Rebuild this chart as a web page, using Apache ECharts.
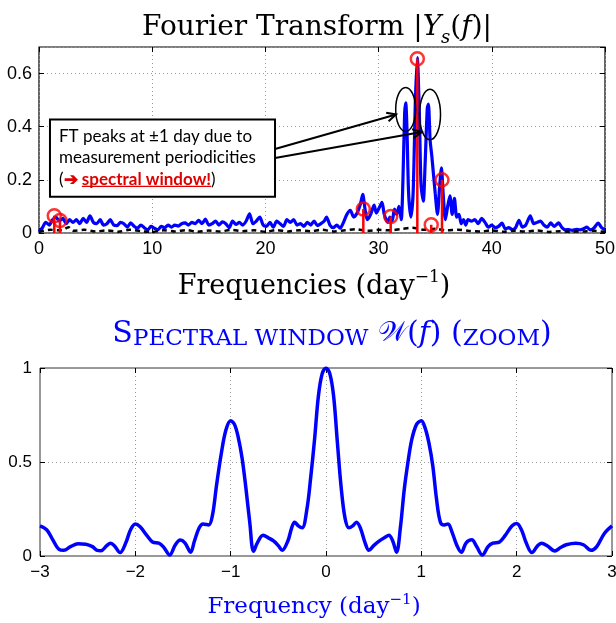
<!DOCTYPE html>
<html>
<head>
<meta charset="utf-8">
<script src="https://cdn.jsdelivr.net/npm/echarts@6.0.0/dist/echarts.min.js"></script>
<style>
  html, body { margin: 0; padding: 0; background: #fff; }
  #chart { width: 616px; height: 623px; }
</style>
</head>
<body>
<div id="chart"></div>
<script>
// ---- Fourier amplitude spectrum |Ys(f)| (frequency in 1/day) ----
const spectrumFreq = [
  0.0, 0.3, 0.6, 0.9, 1.2, 1.5, 1.8, 2.1, 2.4, 2.7, 3.0, 3.3, 3.6, 3.9, 4.2, 4.5, 4.8, 5.1, 5.4, 5.7,
  6.0, 6.3, 6.6, 6.9, 7.2, 7.5, 7.8, 8.1, 8.4, 8.7, 9.0, 9.3, 9.6, 9.9, 10.2, 10.5, 10.8, 11.1, 11.4, 11.7,
  12.0, 12.3, 12.6, 12.9, 13.2, 13.5, 13.8, 14.1, 14.4, 14.7, 15.0, 15.3, 15.6, 15.9, 16.2, 16.5, 16.8, 17.1, 17.4, 17.7,
  18.0, 18.3, 18.6, 18.9, 19.2, 19.5, 19.8, 20.1, 20.4, 20.7, 21.0, 21.3, 21.6, 21.9, 22.2, 22.5, 22.8, 23.1, 23.4, 23.7,
  24.0, 24.3, 24.6, 24.9, 25.2, 25.4, 25.7, 26.0, 26.3, 26.6, 26.9, 27.2, 27.5, 27.8, 28.1, 28.4, 28.6, 28.8, 29.0, 29.3,
  29.6, 29.8, 30.0, 30.3, 30.5, 30.8, 31.0, 31.2, 31.4, 31.6, 31.8, 32.0, 32.15, 32.3, 32.4, 32.5, 32.65, 32.85, 33.05, 33.25,
  33.42, 33.6, 33.75, 33.95, 34.1, 34.3, 34.4, 34.55, 34.7, 34.85, 35.0, 35.2, 35.4, 35.55, 35.7, 35.9, 36.1, 36.3, 36.5, 36.7,
  36.9, 37.1, 37.3, 37.5, 37.7, 37.9, 38.2, 38.5, 38.8, 39.1, 39.4, 39.7, 40.0, 40.3, 40.6, 40.9, 41.2, 41.5, 41.8, 42.1,
  42.4, 42.7, 43.0, 43.4, 43.7, 44.0, 44.3, 44.6, 44.9, 45.2, 45.5, 45.9, 46.2, 46.5, 46.8, 47.1, 47.5, 47.8, 48.1, 48.4,
  48.7, 49.0, 49.4, 49.7, 50.0
];
const spectrumAmp = [
  0.005, 0.02, 0.04, 0.03, 0.05, 0.06, 0.045, 0.055, 0.035, 0.05, 0.04, 0.05, 0.035, 0.055, 0.04, 0.065, 0.04, 0.035, 0.05, 0.03,
  0.035, 0.05, 0.03, 0.028, 0.04, 0.035, 0.022, 0.038, 0.025, 0.018, 0.03, 0.02, 0.012, 0.025, 0.018, 0.012, 0.025, 0.02, 0.03, 0.022,
  0.03, 0.026, 0.035, 0.038, 0.03, 0.04, 0.035, 0.048, 0.035, 0.052, 0.03, 0.035, 0.045, 0.03, 0.042, 0.035, 0.02, 0.045, 0.032, 0.04,
  0.03, 0.045, 0.072, 0.035, 0.045, 0.06, 0.03, 0.025, 0.04, 0.022, 0.045, 0.035, 0.025, 0.05, 0.04, 0.05, 0.03, 0.035, 0.025, 0.04,
  0.03, 0.045, 0.028, 0.035, 0.045, 0.06, 0.03, 0.02, 0.03, 0.018, 0.04, 0.07, 0.085, 0.06, 0.075, 0.11, 0.145, 0.09, 0.05, 0.07,
  0.105, 0.075, 0.09, 0.115, 0.07, 0.04, 0.06, 0.045, 0.09, 0.07, 0.1, 0.05, 0.2, 0.45, 0.49, 0.4, 0.15, 0.06, 0.15, 0.5,
  0.66, 0.45, 0.18, 0.12, 0.25, 0.47, 0.485, 0.35, 0.29, 0.22, 0.15, 0.07, 0.18, 0.245, 0.15, 0.05, 0.1, 0.14, 0.07, 0.13,
  0.06, 0.07, 0.035, 0.05, 0.03, 0.05, 0.045, 0.05, 0.035, 0.055, 0.04, 0.022, 0.03, 0.02, 0.025, 0.037, 0.015, 0.02, 0.013, 0.02,
  0.048, 0.022, 0.03, 0.065, 0.035, 0.04, 0.045, 0.03, 0.022, 0.038, 0.025, 0.038, 0.02, 0.012, 0.013, 0.01, 0.014, 0.012, 0.016, 0.022,
  0.012, 0.018, 0.037, 0.02, 0.012
];

// residual spectrum after prewhitening (dashed black)
const residualFreq = [
  0, 1, 2, 2.6, 3, 4, 5, 6, 7, 8, 9, 10, 11, 12, 13, 14, 15, 16, 17, 18, 19, 20, 21, 22, 23, 24, 25,
  26, 27, 28, 29, 30, 31, 32, 33, 34, 35, 36, 37, 38, 39, 40, 41, 42, 43, 44, 45, 46, 47, 48, 49, 50
];
const residualAmp = [
  0.004, 0.012, 0.01, 0.022, 0.008, 0.012, 0.006, 0.01, 0.005, 0.012, 0.007, 0.004, 0.01, 0.006, 0.011, 0.005, 0.009, 0.006, 0.012, 0.007, 0.01, 0.005, 0.011, 0.006, 0.01, 0.007, 0.012,
  0.006, 0.01, 0.014, 0.008, 0.012, 0.01, 0.015, 0.02, 0.012, 0.016, 0.01, 0.012, 0.008, 0.006, 0.01, 0.005, 0.008, 0.006, 0.009, 0.004, 0.007, 0.005, 0.006, 0.008, 0.004
];

// extracted frequencies (red stems)
const peakFreq = [1.35, 1.85, 28.65, 31.07, 33.42, 34.65, 35.6];
const peakAmp  = [0.065, 0.047, 0.09, 0.062, 0.656, 0.031, 0.2];

// ---- spectral window W(f) ----
const windowFreq = [
  -3.00, -2.93, -2.87, -2.80, -2.75, -2.68, -2.60, -2.52, -2.45, -2.40, -2.36, -2.30, -2.26, -2.22, -2.16, -2.10, -2.05, -2.00, -1.95, -1.88,
  -1.82, -1.75, -1.70, -1.64, -1.58, -1.53, -1.48, -1.42, -1.38, -1.33, -1.29, -1.23, -1.19, -1.15, -1.10, -1.05, -1.00, -0.96, -0.92, -0.88,
  -0.84, -0.80, -0.76, -0.72, -0.66, -0.60, -0.55, -0.50, -0.46, -0.40, -0.36, -0.33, -0.29, -0.25, -0.20, -0.16, -0.12, -0.08, -0.04, 0.00,
  0.04, 0.08, 0.12, 0.16, 0.20, 0.24, 0.28, 0.32, 0.36, 0.41, 0.45, 0.50, 0.56, 0.62, 0.66, 0.70, 0.74, 0.78, 0.82, 0.86,
  0.90, 0.95, 1.00, 1.04, 1.08, 1.12, 1.16, 1.20, 1.24, 1.28, 1.32, 1.37, 1.42, 1.47, 1.53, 1.58, 1.64, 1.70, 1.75, 1.82,
  1.88, 1.95, 2.00, 2.05, 2.10, 2.16, 2.22, 2.26, 2.32, 2.40, 2.46, 2.52, 2.62, 2.70, 2.78, 2.84, 2.92, 3.00
];
const windowAmp = [
  0.16, 0.14, 0.09, 0.035, 0.03, 0.05, 0.065, 0.063, 0.05, 0.03, 0.028, 0.055, 0.068, 0.055, 0.018, 0.07, 0.14, 0.17, 0.155, 0.11,
  0.075, 0.068, 0.045, 0.005, 0.06, 0.085, 0.07, 0.02, 0.08, 0.15, 0.17, 0.165, 0.22, 0.37, 0.54, 0.67, 0.72, 0.70, 0.63, 0.52,
  0.36, 0.18, 0.025, 0.07, 0.11, 0.095, 0.08, 0.055, 0.03, 0.08, 0.15, 0.18, 0.16, 0.15, 0.25, 0.42, 0.62, 0.85, 0.97, 1.00,
  0.97, 0.85, 0.60, 0.36, 0.20, 0.15, 0.16, 0.18, 0.15, 0.07, 0.03, 0.055, 0.08, 0.10, 0.11, 0.08, 0.02, 0.15, 0.35, 0.50,
  0.62, 0.70, 0.72, 0.68, 0.60, 0.48, 0.30, 0.18, 0.165, 0.17, 0.13, 0.06, 0.02, 0.07, 0.086, 0.05, 0.005, 0.05, 0.068, 0.075,
  0.11, 0.16, 0.173, 0.14, 0.07, 0.018, 0.055, 0.068, 0.055, 0.027, 0.045, 0.06, 0.068, 0.06, 0.03, 0.05, 0.12, 0.16
];

// tick labels
const ftFreqTicks = [0, 10, 20, 30, 40, 50];
const ftAmpTicks = [0, 0.2, 0.4, 0.6];
const winFreqTicks = [-3, -2, -1, 0, 1, 2, 3];
const winAmpTicks = [0, 0.5, 1];

const zip = (a, b) => a.map((v, i) => [v, b[i]]);
const inTicks = (ticks, v) => ticks.some(t => Math.abs(t - v) < 1e-9);

const SERIF = '"DejaVu Serif", "Liberation Serif", serif';
const SANS = '"Liberation Sans", Arial, sans-serif';
const NOTE = 'Lato, "Open Sans", sans-serif';
const BLUE = '#0000ff';
const RED = '#ff0000';
const GRID_DOT = { color: '#9a9a9a', width: 1, type: [1, 3] };

function valueAxis(opt) {
  return Object.assign({
    type: 'value',
    axisLine: { show: false, onZero: false },
    axisTick: { show: true, inside: true, length: 5, lineStyle: { color: '#000' } },
    axisLabel: { show: false },
    splitLine: { show: false }
  }, opt);
}

const chart = echarts.init(document.getElementById('chart'), null, { renderer: 'canvas' });

const option = {
  animation: false,
  backgroundColor: '#fff',
  title: [
    {
      text: 'Fourier Transform |{it|Y}{sub|s}({it|f})|',
      left: 312, top: 4, textAlign: 'center',
      textStyle: {
        fontFamily: SERIF, fontSize: 28, fontWeight: 'normal', color: '#000',
        rich: {
          it: { fontFamily: SERIF, fontSize: 28, fontStyle: 'italic', color: '#000' },
          sub: { fontFamily: SERIF, fontSize: 18, fontStyle: 'italic', color: '#000', verticalAlign: 'bottom', lineHeight: 38 }
        }
      }
    },
    {
      text: '{cap|S}{sc|PECTRAL WINDOW} {cal|𝒲}({it|f}) ({sc|ZOOM})',
      left: 327, top: 312, textAlign: 'center',
      textStyle: {
        fontFamily: SERIF, fontSize: 30, fontWeight: 'normal', color: BLUE,
        rich: {
          cap: { fontFamily: SERIF, fontSize: 30, color: BLUE },
          sc: { fontFamily: SERIF, fontSize: 23, color: BLUE, verticalAlign: 'bottom', lineHeight: 34 },
          cal: { fontFamily: '"DejaVu Sans", "Noto Sans", serif', fontSize: 28, color: BLUE },
          it: { fontFamily: SERIF, fontSize: 30, fontStyle: 'italic', color: BLUE }
        }
      }
    }
  ],
  grid: [
    { left: 39, right: 11, top: 47, height: 186, show: true, borderColor: '#000', borderWidth: 1.2, backgroundColor: '#fff', outerBoundsMode: 'none' },
    { left: 40, right: 4, top: 368, height: 188, show: true, borderColor: '#333', borderWidth: 1, backgroundColor: '#fff', outerBoundsMode: 'none' }
  ],
  xAxis: [
    valueAxis({
      gridIndex: 0, min: 0, max: 50, interval: 10, position: 'bottom',
      axisLabel: { show: true, fontFamily: SANS, fontSize: 18, color: '#000', margin: 7,
        formatter: v => inTicks(ftFreqTicks, v) ? String(v) : '' },
      splitLine: { show: true, lineStyle: GRID_DOT },
      name: 'Frequencies (day{sup|−1})', nameLocation: 'middle', nameGap: 36,
      nameTextStyle: { fontFamily: SERIF, fontSize: 27, color: '#000', padding: [0, 16, 0, 0],
        rich: { sup: { fontFamily: SERIF, fontSize: 17, color: '#000', verticalAlign: 'top', lineHeight: 35 } } }
    }),
    valueAxis({ gridIndex: 0, min: 0, max: 50, interval: 10, position: 'top' }),
    valueAxis({
      gridIndex: 1, min: -3, max: 3, interval: 1, position: 'bottom',
      axisLabel: { show: true, fontFamily: SANS, fontSize: 17, color: '#000', margin: 8,
        formatter: v => inTicks(winFreqTicks, v) ? String(v).replace('-', '−') : '' },
      splitLine: { show: true, lineStyle: GRID_DOT },
      name: 'Frequency (day{sup|−1})', nameLocation: 'middle', nameGap: 37,
      nameTextStyle: { fontFamily: SERIF, fontSize: 23, color: BLUE, padding: [0, 24, 0, 0],
        rich: { sup: { fontFamily: SERIF, fontSize: 15, color: BLUE, verticalAlign: 'top', lineHeight: 29 } } }
    }),
    valueAxis({ gridIndex: 1, min: -3, max: 3, interval: 1, position: 'top' })
  ],
  yAxis: [
    valueAxis({
      gridIndex: 0, min: 0, max: 0.7, interval: 0.2, position: 'left',
      axisLabel: { show: true, fontFamily: SANS, fontSize: 18, color: '#000', margin: 7, showMaxLabel: false,
        formatter: v => inTicks(ftAmpTicks, v) ? String(Math.round(v * 10) / 10) : '' },
      splitLine: { show: true, lineStyle: GRID_DOT }
    }),
    valueAxis({ gridIndex: 0, min: 0, max: 0.7, interval: 0.2, position: 'right' }),
    valueAxis({
      gridIndex: 1, min: 0, max: 1, interval: 0.5, position: 'left',
      axisLabel: { show: true, fontFamily: SANS, fontSize: 17, color: '#000', margin: 8,
        formatter: v => inTicks(winAmpTicks, v) ? String(v) : '' },
      splitLine: { show: true, lineStyle: GRID_DOT }
    }),
    valueAxis({ gridIndex: 1, min: 0, max: 1, interval: 0.5, position: 'right' })
  ],
  series: [
    {
      name: 'spectrum', type: 'line', xAxisIndex: 0, yAxisIndex: 0,
      data: zip(spectrumFreq, spectrumAmp), showSymbol: false, smooth: 0.25,
      lineStyle: { color: BLUE, width: 3.2 }, z: 2
    },
    {
      name: 'residual', type: 'line', xAxisIndex: 0, yAxisIndex: 0,
      data: zip(residualFreq, residualAmp), showSymbol: false, smooth: 0.3,
      lineStyle: { color: '#000', width: 2.5, type: [5, 4] }, z: 3
    },
    {
      name: 'stems', type: 'custom', xAxisIndex: 0, yAxisIndex: 0,
      data: zip(peakFreq, peakAmp), z: 4,
      renderItem: (params, api) => {
        const p0 = api.coord([api.value(0), 0]);
        const p1 = api.coord([api.value(0), api.value(1)]);
        return { type: 'line', shape: { x1: p0[0], y1: p0[1], x2: p1[0], y2: p1[1] },
                 style: { stroke: RED, lineWidth: 2.5 } };
      }
    },
    {
      name: 'peaks', type: 'scatter', xAxisIndex: 0, yAxisIndex: 0,
      data: zip(peakFreq, peakAmp), symbol: 'circle', symbolSize: 13, z: 5,
      itemStyle: { color: 'rgba(0,0,0,0)', borderColor: RED, borderWidth: 2.5 }
    },
    {
      name: 'window', type: 'line', xAxisIndex: 2, yAxisIndex: 2,
      data: zip(windowFreq, windowAmp), showSymbol: false, smooth: 0.35,
      lineStyle: { color: BLUE, width: 3.5 }
    }
  ]
};

chart.setOption(option);

// ---- annotation: callout box, ellipses around the ±1 day aliases, arrows ----
const px = (f, a) => chart.convertToPixel({ gridIndex: 0 }, [f, a]);
const boxTL = px(0.97, 0.427), boxBR = px(20.85, 0.136);
const fontSize = 17, lineH = 21.5;
const textX = boxTL[0] + 9, textY = boxTL[1] + 6;

const measure = (() => {
  const ctx = document.createElement('canvas').getContext('2d');
  return (txt, weight) => { ctx.font = `${weight} ${fontSize}px Lato, "Open Sans", sans-serif`; return ctx.measureText(txt).width; };
})();
const ulX = textX + measure('(', 'normal') + measure('➔', 'bold') + measure(' ', 'normal');
const ulW = measure('spectral window!', 'bold');
const ulY = textY + 2 * lineH + lineH / 2 + fontSize * 0.42;

function ellipse(fc, ac, rxDays, ryAmp) {
  const c = px(fc, ac), e = px(fc + rxDays, ac + ryAmp);
  return { type: 'ellipse', z: 100,
    shape: { cx: c[0], cy: c[1], rx: Math.abs(e[0] - c[0]), ry: Math.abs(c[1] - e[1]) },
    style: { fill: 'none', stroke: '#000', lineWidth: 1.5 } };
}
function arrow(from, to) {
  const a = px(from[0], from[1]), b = px(to[0], to[1]);
  const ang = Math.atan2(b[1] - a[1], b[0] - a[0]), L = 10, w = 0.45;
  const h1 = [b[0] - L * Math.cos(ang - w), b[1] - L * Math.sin(ang - w)];
  const h2 = [b[0] - L * Math.cos(ang + w), b[1] - L * Math.sin(ang + w)];
  return [
    { type: 'line', z: 100, shape: { x1: a[0], y1: a[1], x2: b[0], y2: b[1] }, style: { stroke: '#000', lineWidth: 2 } },
    { type: 'polyline', z: 100, shape: { points: [h1, b, h2] }, style: { stroke: '#000', lineWidth: 2, fill: 'none' } }
  ];
}

chart.setOption({
  graphic: [
    { type: 'rect', z: 100,
      shape: { x: boxTL[0], y: boxTL[1], width: boxBR[0] - boxTL[0], height: boxBR[1] - boxTL[1] },
      style: { fill: '#fff', stroke: '#000', lineWidth: 2 } },
    { type: 'text', z: 101, x: textX, y: textY,
      style: {
        text: 'FT peaks at ±1 day due to\nmeasurement periodicities\n({red|➔} {redb|spectral window!})',
        font: `${fontSize}px ${NOTE}`, fill: '#000', lineHeight: lineH, verticalAlign: 'top',
        rich: {
          red: { fill: '#e00000', fontWeight: 'bold', fontSize: fontSize, fontFamily: NOTE, lineHeight: lineH },
          redb: { fill: '#e00000', fontWeight: 'bold', fontSize: fontSize, fontFamily: NOTE, lineHeight: lineH }
        }
      } },
    { type: 'line', z: 101, shape: { x1: ulX, y1: ulY, x2: ulX + ulW, y2: ulY }, style: { stroke: '#e00000', lineWidth: 1.3 } },
    ellipse(32.39, 0.465, 0.88, 0.083),
    ellipse(34.54, 0.446, 0.93, 0.095),
    ...arrow([20.85, 0.316], [31.54, 0.446]),
    ...arrow([20.85, 0.282], [33.81, 0.38])
  ]
});
</script>
</body>
</html>
